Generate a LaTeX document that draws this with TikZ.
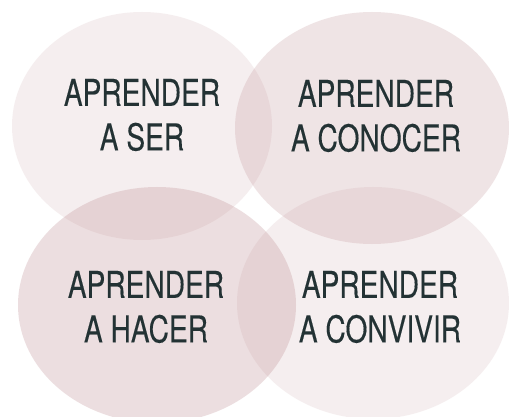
\documentclass[tikz,border=0pt]{standalone}
\usepackage{fontspec}
\setmainfont{TeX Gyre Heros}[FakeStretch=0.76,FakeBold=0.3]
\usetikzlibrary{shapes.geometric}
\definecolor{blobbase}{RGB}{190,140,145}
\definecolor{labelcol}{RGB}{35,50,52}
\tikzset{
  blob/.style={ellipse, inner sep=0pt, draw=none, fill=blobbase},
  lbl/.style={align=center, text=labelcol, font=\fontsize{37}{44.5}\selectfont, inner sep=0pt}
}
\begin{document}
\begin{tikzpicture}[x=1pt,y=-1pt]
\useasboundingbox (0,0) rectangle (509,417);
\fill[white] (0,0) rectangle (509,417);
\clip (0,0) rectangle (509,417);
\node[blob, fill opacity=0.14, minimum width=260pt, minimum height=228pt] (tl) at (142,126) {};
\node[blob, fill opacity=0.23, minimum width=274pt, minimum height=232pt] (tr) at (372,128) {};
\node[blob, fill opacity=0.28, minimum width=278pt, minimum height=236pt] (bl) at (157,305) {};
\node[blob, fill opacity=0.14, minimum width=272pt, minimum height=232pt] (br) at (373,303) {};
\node[lbl] (t1) at (142,115) {APRENDER\\A SER};
\node[lbl] (t2) at (376,116) {APRENDER\\A CONOCER};
\node[lbl] (t3) at (146,307) {APRENDER\\A HACER};
\node[lbl] (t4) at (380,307) {APRENDER\\A CONVIVIR};
\end{tikzpicture}
\end{document}
